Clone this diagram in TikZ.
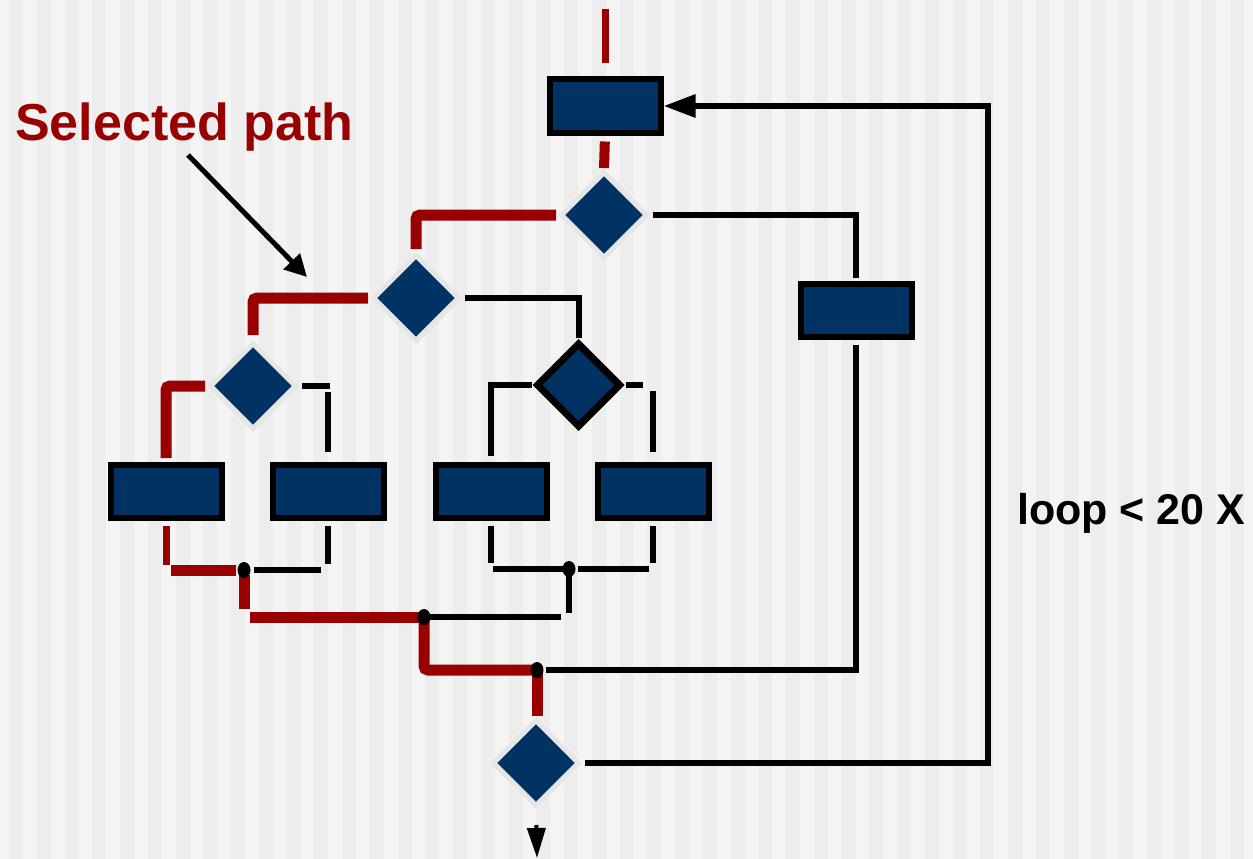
\documentclass[tikz,border=0pt]{standalone}
\usepackage{fontspec}
\setmainfont{Liberation Sans}
\usetikzlibrary{shapes.geometric,arrows.meta}
\definecolor{bgl}{HTML}{F4F4F4}
\definecolor{bgd}{HTML}{EDEDED}
\definecolor{navy}{RGB}{0,51,100}
\definecolor{selred}{HTML}{990000}
\definecolor{halo}{HTML}{E6E6E6}
\tikzset{
  procbox/.style={rectangle,draw=black,line width=6pt,fill=navy,minimum width=111pt,minimum height=53pt,inner sep=0pt},
  decis/.style={diamond,aspect=1,draw=halo,line width=5pt,fill=navy,minimum width=87pt,minimum height=87pt,inner sep=0pt},
  decisb/.style={diamond,aspect=1,draw=black,line width=7pt,fill=navy,minimum width=85pt,minimum height=85pt,inner sep=0pt},
  wire/.style={draw=black,line width=6pt},
  redwire/.style={draw=selred,line width=11pt,rounded corners=4pt,line cap=butt},
  redthin/.style={draw=selred,line width=7pt},
  jdot/.style={ellipse,fill=black,inner sep=0pt,minimum width=13pt,minimum height=16pt}
}
\begin{document}
\begin{tikzpicture}[x=1pt,y=-1pt]
\useasboundingbox (0,0) rectangle (1253,859);
\fill[bgl] (0,0) rectangle (1253,859);
\foreach \k in {0,...,44} \fill[bgd] ({9+\k*27.75},0) rectangle ++(14,859);

% nodes
\node[procbox] (top) at (605,106) {};
\node[decis] (d1) at (604,215) {};
\node[decis] (d2) at (416,298) {};
\node[decis] (d3) at (253,386) {};
\node[decisb] (d4) at (578.5,385) {};
\node[procbox] (R) at (856,310) {};
\node[procbox] (A) at (166,491.5) {};
\node[procbox] (B) at (328,491.5) {};
\node[procbox] (C) at (491,491.5) {};
\node[procbox] (D) at (653,491.5) {};
\node[decis] (d5) at (536,763) {};

\coordinate (topin) at (605,9);
\coordinate (j1) at (244,570);
\coordinate (j2) at (569,569);
\coordinate (j3) at (424,617);
\coordinate (j4) at (537,670);
\coordinate (loopc) at (988,106);
\coordinate (bout) at (537,858);
\coordinate (astart) at (188,155);
\coordinate (aend) at (307,277);
\coordinate (c3) at (d3.east -| B.north);
\coordinate (c4) at (d4.east -| D.north);
\coordinate (cA) at (A.south |- j1);
\coordinate (cB) at (B.south |- j1);
\coordinate (cC) at (C.south |- j2);
\coordinate (cD) at (D.south |- j2);
\coordinate (cj1) at (j1 |- j3);
\coordinate (cj2) at (j2 |- j3);
\coordinate (d5top) at (j4 |- d5.north);

% black connectors
\draw[wire,shorten <=3pt,shorten >=3pt] (d1.east) -| (R.north);
\draw[wire,shorten <=3pt,shorten >=1pt] (d2.east) -| (d4.north);
\draw[wire,shorten <=3pt,shorten >=-2pt] (d3.east) -- (c3);
\draw[wire,shorten <=6pt,shorten >=10pt] (c3) -- (B.north);
\draw[wire,shorten <=1pt,shorten >=6pt] (d4.west) -| (C.north);
\draw[wire,shorten <=1pt,shorten >=10pt] (d4.east) -- (c4);
\draw[wire,shorten <=6pt,shorten >=10pt] (c4) -- (D.north);
\draw[wire,shorten <=5pt,shorten >=6pt] (B.south) -- (cB);
\draw[wire,shorten <=7pt,shorten >=10pt] (cB) -- (j1);
\draw[wire,shorten <=5pt,shorten >=6pt] (C.south) -- (cC);
\draw[wire,shorten <=2pt,shorten >=6pt] (cC) -- (j2);
\draw[wire,shorten <=5pt,shorten >=6pt] (D.south) -- (cD);
\draw[wire,shorten <=4pt,shorten >=9pt] (cD) -- (j2);
\draw[wire,shorten <=6pt,shorten >=4pt] (j2) -- (cj2);
\draw[wire,shorten <=8pt,shorten >=6pt] (cj2) -- (j3);
\draw[wire,shorten <=5pt,shorten >=9pt] (R.south) |- (j4);
\draw[wire,shorten <=3pt,-{Triangle[length=32pt,width=22pt]}] (d5.east) -| (loopc) -- (top.east);
\draw[draw=black,line width=4pt,shorten <=16pt,-{Triangle[length=30pt,width=18pt]}] (d5.south) -- (bout);

% selected (red) path
\draw[redwire,line width=7pt,shorten >=13pt] (topin) -- (top.north);
\draw[redwire,line width=10pt,shorten <=6pt,shorten >=1pt] (top.south) -- (d1.north);
\draw[redwire,shorten <=2pt,shorten >=3pt] (d1.west) -| (d2.north);
\draw[redwire,shorten <=2pt,shorten >=5pt] (d2.west) -| (d3.north);
\draw[redwire,shorten <=2pt,shorten >=4pt] (d3.west) -| (A.north);
\draw[redthin,shorten <=5pt,shorten >=5pt] (A.south) -- (cA);
\draw[redwire,shorten <=5pt,shorten >=8pt] (cA) -- (j1);
\draw[redwire,shorten <=5pt,shorten >=8pt] (j1) -- (cj1);
\draw[redwire,shorten <=6pt,shorten >=1pt] (cj1) -- (j3);
\draw[redwire] (j3) |- (j4);
\draw[redwire,shorten >=1pt] (j4) -- (d5top);

% junction dots
\foreach \j in {j1,j2,j3,j4} \node[jdot] at (\j) {};

% labels
\node[anchor=base west,inner sep=0pt,text=selred,font=\bfseries\fontsize{52}{52}\selectfont] (sel) at (15,140) {Selected path};
\draw[line width=5pt,-{Triangle[length=22pt,width=22pt]}] (astart) -- (aend);
\node[anchor=base west,inner sep=0pt,text=black,font=\bfseries\fontsize{43}{43}\selectfont] (loop) at (1017,524) {loop < 20 X};
\end{tikzpicture}
\end{document}
